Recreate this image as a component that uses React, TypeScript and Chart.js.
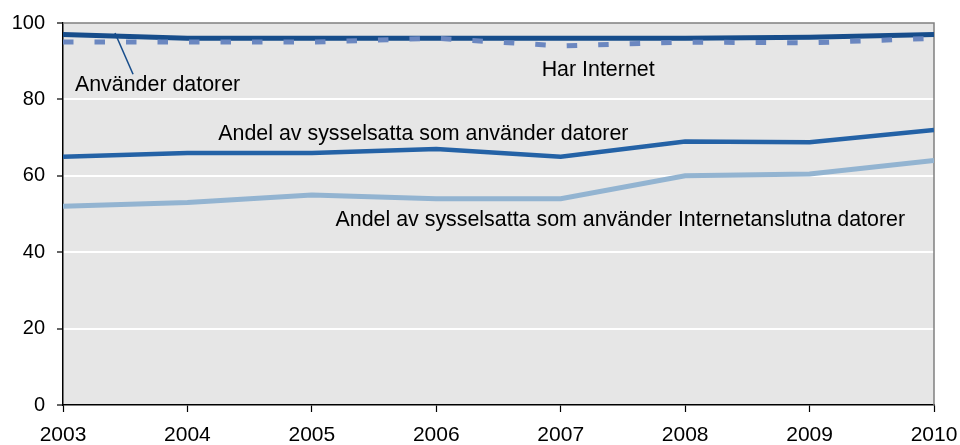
import React, { useEffect, useRef } from "react";
import { Chart, registerables } from "chart.js";

Chart.register(...registerables);

const years = [2003, 2004, 2005, 2006, 2007, 2008, 2009, 2010];
const anvanderDatorer = [97, 96, 96, 96, 96, 96, 96.3, 97];
const harInternet = [95, 95, 95, 96, 94, 95, 94.8, 96];
const sysselsattaDatorer = [65, 66, 66, 67, 65, 69, 68.8, 72];
const sysselsattaInternet = [52, 53, 55, 54, 54, 60, 60.5, 64];
const yTicks = [0, 20, 40, 60, 80, 100];

const labels = [
  { text: "Använder datorer", x: 2003.096, y: 82.2 },
  { text: "Har Internet", x: 2006.847, y: 86.1 },
  { text: "Andel av sysselsatta som använder datorer", x: 2004.248, y: 69.4 },
  { text: "Andel av sysselsatta som använder Internetanslutna datorer", x: 2005.19, y: 46.9 },
];
const leader = { x1: 2003.418, y1: 97.4, x2: 2003.563, y2: 86.6 };

const FONT = "'Liberation Sans', Arial, sans-serif";

const toPts = (arr: number[]) => arr.map((v, i) => ({ x: years[i], y: v }));

export default function App() {
  const ref = useRef<HTMLCanvasElement | null>(null);
  useEffect(() => {
    document.body.style.margin = "0";
    const canvas = ref.current!;
    const bgPlugin = {
      id: "bg",
      beforeDraw(chart: any) {
        const { ctx, chartArea: a } = chart;
        ctx.save();
        ctx.fillStyle = "#e6e6e6";
        ctx.fillRect(a.left, a.top, a.right - a.left, a.bottom - a.top);
        ctx.restore();
      },
      beforeDatasetsDraw(chart: any) {
        const { ctx, chartArea: a } = chart;
        ctx.save();
        ctx.strokeStyle = "#808080";
        ctx.lineWidth = 1.5;
        ctx.beginPath();
        ctx.moveTo(a.left, a.top);
        ctx.lineTo(a.right, a.top);
        ctx.lineTo(a.right, a.bottom);
        ctx.stroke();
        ctx.restore();
      },
      afterDatasetsDraw(chart: any) {
        const { ctx } = chart;
        const xs = chart.scales.x;
        const ys = chart.scales.y;
        ctx.save();
        ctx.strokeStyle = "#174d8b";
        ctx.lineWidth = 1.5;
        ctx.beginPath();
        ctx.moveTo(xs.getPixelForValue(leader.x1), ys.getPixelForValue(leader.y1));
        ctx.lineTo(xs.getPixelForValue(leader.x2), ys.getPixelForValue(leader.y2));
        ctx.stroke();
        ctx.fillStyle = "#000";
        ctx.font = `21.4px ${FONT}`;
        ctx.textAlign = "left";
        ctx.textBaseline = "alphabetic";
        for (const l of labels) {
          ctx.fillText(l.text, xs.getPixelForValue(l.x), ys.getPixelForValue(l.y));
        }
        ctx.restore();
      },
    };
    const chart = new Chart(canvas, {
      type: "line",
      data: {
        datasets: [
          {
            label: "Har Internet",
            data: toPts(harInternet),
            borderColor: "#6b87c0",
            borderWidth: 5,
            borderDash: [10.5, 21],
            borderCapStyle: "butt",
            pointRadius: 0,
            tension: 0,
            order: 0,
          },
          {
            label: "Använder datorer",
            data: toPts(anvanderDatorer),
            borderColor: "#174d8b",
            borderWidth: 5,
            pointRadius: 0,
            tension: 0,
            order: 1,
          },
          {
            label: "Andel av sysselsatta som använder datorer",
            data: toPts(sysselsattaDatorer),
            borderColor: "#2462a6",
            borderWidth: 4.5,
            pointRadius: 0,
            tension: 0,
            order: 2,
          },
          {
            label: "Andel av sysselsatta som använder Internetanslutna datorer",
            data: toPts(sysselsattaInternet),
            borderColor: "#93b4d1",
            borderWidth: 5,
            pointRadius: 0,
            tension: 0,
            order: 3,
          },
        ],
      },
      options: {
        animation: false,
        responsive: true,
        maintainAspectRatio: false,
        layout: { padding: { top: 23, right: 26, left: 0, bottom: 0 } },
        plugins: { legend: { display: false }, tooltip: { enabled: false } },
        scales: {
          x: {
            type: "linear",
            min: years[0],
            max: years[years.length - 1],
            afterFit(scale: any) {
              scale.height = 40;
              scale.paddingLeft = 0;
              scale.paddingRight = 0;
            },
            afterBuildTicks(scale: any) {
              scale.ticks = years.map((v) => ({ value: v }));
            },
            ticks: {
              callback: (v: any) => String(v),
              color: "#000",
              font: { family: FONT, size: 21 },
              padding: 11,
              maxRotation: 0,
              autoSkip: false,
            },
            grid: { display: true, drawOnChartArea: false, tickLength: 7, tickColor: "#000", tickWidth: 1.2 },
            border: { display: true, color: "#000", width: 1.5 },
          },
          y: {
            min: 0,
            max: 100,
            afterFit(scale: any) {
              scale.width = 63;
              scale.paddingTop = 0;
              scale.paddingBottom = 0;
            },
            afterBuildTicks(scale: any) {
              scale.ticks = yTicks.map((v) => ({ value: v }));
            },
            ticks: {
              color: "#000",
              font: { family: FONT, size: 20 },
              padding: 12,
            },
            grid: {
              color: (c: any) => (c.tick && (c.tick.value === 0 || c.tick.value === 100) ? "rgba(0,0,0,0)" : "#ffffff"),
              lineWidth: 2,
              tickLength: 6,
              tickColor: "#000",
              tickWidth: 1.2,
            },
            border: { display: true, color: "#000", width: 1.5 },
          },
        },
      },
      plugins: [bgPlugin],
    } as any);
    return () => chart.destroy();
  }, []);
  return (
    <div style={{ position: "relative", width: 960, height: 445 }}>
      <canvas ref={ref} />
    </div>
  );
}
